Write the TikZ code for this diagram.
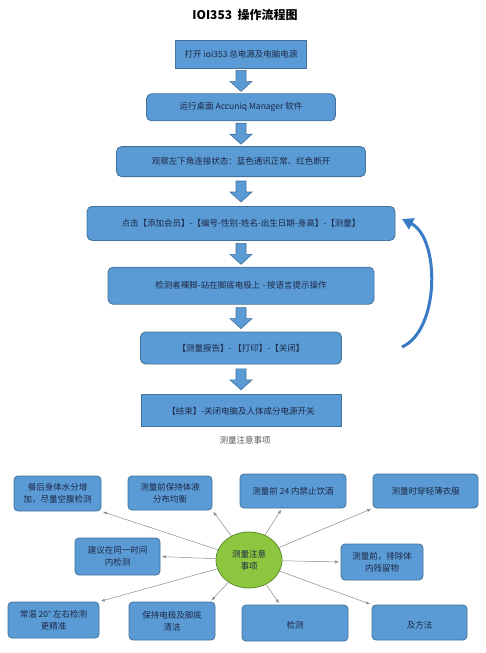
\documentclass[tikz,border=0pt]{standalone}
\usepackage{fontspec}
\setmainfont{Noto Sans CJK SC}
\usetikzlibrary{positioning, arrows.meta, calc, shapes.geometric}
\definecolor{bgBox}{HTML}{5B9BD5}
\definecolor{borderBox}{HTML}{41719C}
\definecolor{bgHub}{HTML}{8DC63F}
\definecolor{borderHub}{HTML}{5E8E2A}
\definecolor{spokeColor}{HTML}{8A8A8A}
\definecolor{loopColor}{HTML}{3A7BC8}
\definecolor{textMain}{HTML}{1C2845}
\definecolor{textLight}{HTML}{555555}
\tikzset{
  stepbox/.style={
    draw=borderBox, fill=bgBox, line width=0.8pt,
    font=\fontsize{8.5}{11}\selectfont, text=textMain, align=center, inner sep=2pt,
  },
  roundstep/.style={
    stepbox, rounded corners=5pt,
  },
  notebox/.style={
    draw=borderBox, fill=bgBox, rounded corners=4pt, line width=0.8pt,
    font=\fontsize{8.5}{12}\selectfont, text=textMain, align=center, inner sep=2pt,
  },
  hub/.style={
    ellipse, draw=borderHub, fill=bgHub, line width=0.8pt,
    minimum width=66pt, minimum height=56pt, inner sep=0pt,
    font=\fontsize{8.5}{12}\selectfont, text=textMain, align=center,
  },
  spoke/.style={
    -{Latex[length=4pt, width=3pt]}, line width=0.5pt, color=spokeColor, shorten >=1.5pt,
  },
  looparrow/.style={
    -{Triangle[length=11pt, width=12pt]}, line width=3pt, color=loopColor,
  },
  flowarrow/.pic={
    \filldraw[fill=bgBox, draw=borderBox, line width=0.6pt]
      (-5,-10.5) -- (5,-10.5) -- (5,0.5) -- (11,0.5) -- (0,10.5) -- (-11,0.5) -- (-5,0.5) -- cycle;
  },
}

\begin{document}
\begin{tikzpicture}[x=1pt, y=-1pt]

  \fill[white] (0,0) rectangle (486,653);
  \useasboundingbox (0,0) rectangle (486,653);

  % === Title ===
  \node[font=\fontsize{12}{14}\selectfont\bfseries, text=black] (title) at (245,15) {IOI353\ \ 操作流程图};

  % === Flow steps ===
  \node[stepbox, minimum width=131pt, minimum height=28pt] (s1) at (241,54) {打开 ioi353 总电源及电脑电源};
  \node[roundstep, minimum width=189pt, minimum height=27pt, below=25pt of s1] (s2) {运行桌面 Accuniq Manager 软件};
  \node[roundstep, minimum width=249pt, minimum height=30pt, below=25pt of s2] (s3) {观察左下角连接状态：蓝色通讯正常、红色断开};
  \node[roundstep, minimum width=308pt, minimum height=34pt, below=29pt of s3] (s4) {点击【添加会员】-【编号-性别-姓名-出生日期-身高】-【测量】};
  \node[roundstep, minimum width=266pt, minimum height=37pt, below=26pt of s4] (s5) {检测者裸脚-站在脚底电极上 - 按语言提示操作};
  \node[roundstep, minimum width=201pt, minimum height=32pt, below=27pt of s5] (s6) {【测量报告】- 【打印】-【关闭】};
  \node[stepbox, minimum width=200pt, minimum height=32pt, below=30pt of s6] (s7) {【结束】-关闭电脑及人体成分电源开关};

  % === Block arrows between steps ===
  \foreach \a/\b in {s1/s2, s2/s3, s3/s4, s4/s5, s5/s6, s6/s7}
    \pic at ($(\a.south)!0.5!(\b.north)$) {flowarrow};

  % === Loop back ===
  \coordinate (loopstart) at (402,347);
  \coordinate (loopend) at (402,219);
  \draw[looparrow] (loopstart) .. controls (440,330) and (440,238) .. (loopend);

  % === Notes ===
  \node[font=\fontsize{8.5}{11}\selectfont, text=textLight] (notetitle) at (245,440) {测量注意事项};

  \node[hub] (hub) at (249,560) {测量注意\\事项};

  \node[notebox, minimum width=87pt, minimum height=35pt] (meal) at (57.5,493.5) {餐后身体水分增\\加，尽量空腹检测};
  \node[notebox, minimum width=84pt, minimum height=34pt] (fluid) at (170,493) {测量前保持体液\\分布均衡};
  \node[notebox, minimum width=106pt, minimum height=34pt] (alcohol) at (293,491) {测量前 24 内禁止饮酒};
  \node[notebox, minimum width=105pt, minimum height=34pt] (clothes) at (425.5,491) {测量时穿轻薄衣服};
  \node[notebox, minimum width=85pt, minimum height=37pt] (sametime) at (117.5,556.5) {建议在同一时间\\内检测};
  \node[notebox, minimum width=82pt, minimum height=36pt] (residue) at (382,562) {测量前，排除体\\内残留物};
  \node[notebox, minimum width=91pt, minimum height=36pt] (temp) at (53.5,620) {常温 20° 左右检测\\更精准};
  \node[notebox, minimum width=86pt, minimum height=38pt] (clean) at (172,621) {保持电极及脚底\\清洁};
  \node[notebox, minimum width=106pt, minimum height=36pt] (stand) at (295,623) {\mbox{}\\检测};
  \node[notebox, minimum width=95pt, minimum height=35pt] (method) at (419.5,622.5) {\mbox{}\\及方法};

  % === Spokes ===
  \draw[spoke] (hub) -- (meal.south east);
  \draw[spoke] (hub) -- (fluid.south east);
  \draw[spoke] (hub) -- ($(alcohol.south)+(-11,0)$);
  \draw[spoke] (hub) -- (clothes.south west);
  \draw[spoke] (hub) -- (sametime.east);
  \draw[spoke] (hub) -- (residue.west);
  \draw[spoke] (hub) -- (temp.north east);
  \draw[spoke] (hub) -- ($(clean.north east)+(-5,0)$);
  \draw[spoke] (hub) -- ($(stand.north)+(-15,0)$);
  \draw[spoke] (hub) -- (method.north west);

\end{tikzpicture}
\end{document}
